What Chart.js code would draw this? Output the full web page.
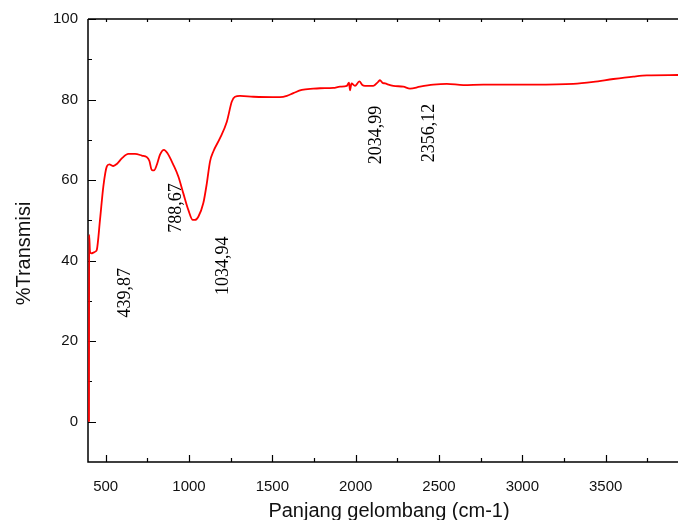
<!DOCTYPE html>
<html>
<head>
<meta charset="utf-8">
<script src="https://cdn.jsdelivr.net/npm/chart.js@4.4.1/dist/chart.umd.min.js"></script>
<style>
    body { margin: 0; background: #fff; }
    #wrap { width: 678px; height: 520px; }
</style>
</head>
<body>
<div id="wrap"><canvas id="ftirChart" width="678" height="520"></canvas></div>
<script>
// FTIR spectrum (wavenumber cm-1 / %T)
const wavenumber = [
    400, 401, 406, 415, 426, 440, 447, 466, 486, 507,
    522, 546, 567, 597, 636, 676, 717, 747, 762, 777,
    790, 807, 826, 850, 870, 906, 936, 966, 996, 1023,
    1036, 1056, 1086, 1107, 1126, 1146, 1186, 1227, 1257, 1276,
    1306, 1386, 1546, 1587, 1626, 1677, 1746, 1786, 1866, 1906,
    1947, 1960, 1966, 1975, 1996, 2022, 2040, 2056, 2106, 2135,
    2146, 2160, 2176, 2226, 2286, 2326, 2386, 2466, 2547, 2646,
    2766, 3066, 3306, 3426, 3546, 3666, 3747, 3934
];
const transmisi = [
    0, 46.4, 42.2, 41.8, 42.0, 42.3, 42.7, 50.1, 58.4, 63.4,
    63.9, 63.5, 64.0, 65.4, 66.5, 66.5, 66.1, 65.7, 64.8, 62.5,
    62.4, 63.8, 66.3, 67.5, 66.7, 63.8, 60.9, 56.7, 52.6, 50.1,
    50.1, 50.9, 54.3, 59.2, 64.6, 67.1, 70.4, 74.5, 79.5, 80.7,
    80.9, 80.7, 80.6, 80.9, 81.6, 82.4, 82.7, 82.8, 82.9, 83.2,
    83.4, 84.2, 82.3, 84.0, 83.4, 84.5, 83.6, 83.4, 83.4, 84.4,
    84.8, 84.2, 84.0, 83.4, 83.2, 82.7, 83.2, 83.7, 83.9, 83.6,
    83.7, 83.7, 83.9, 84.4, 85.1, 85.7, 86.0, 86.1
];

// axis ticks
const xTicks = [500, 1000, 1500, 2000, 2500, 3000, 3500];
const xMinorTicks = [750, 1250, 1750, 2250, 2750, 3250, 3750];
const yTicks = [0, 20, 40, 60, 80, 100];
const yMinorTicks = [10, 30, 50, 70, 90];

const xTitle = 'Panjang gelombang (cm-1)';
const yTitle = '%Transmisi';

// peak labels and where they sit (data units)
const peakLabels = ['439,87', '788,67', '1034,94', '2034,99', '2356,12'];
const peakLabelX = [616, 925, 1204, 2121, 2443];
const peakLabelY = [32.0, 53.1, 38.7, 71.2, 71.7];

const points = wavenumber.map((w, i) => ({ x: w, y: transmisi[i] }));
const sansFont = '"Liberation Sans", Arial, sans-serif';

// draws the box lines, inward ticks (Origin style), titles and peak labels
const frameAxes = {
    id: 'frameAxes',
    beforeDatasetsDraw(chart) {
        const { ctx, chartArea: a, scales: { x, y } } = chart;
        ctx.save();
        ctx.strokeStyle = '#000';
        ctx.lineWidth = 1.5;
        ctx.beginPath();
        ctx.moveTo(a.left, a.top);
        ctx.lineTo(a.right, a.top);
        ctx.moveTo(a.left, a.top);
        ctx.lineTo(a.left, a.bottom);
        ctx.lineTo(a.right, a.bottom);
        ctx.stroke();

        ctx.lineWidth = 1.2;
        ctx.beginPath();
        xTicks.concat(xMinorTicks).forEach(v => {
            const px = Math.round(x.getPixelForValue(v)) + 0.5;
            const len = xTicks.includes(v) ? 7 : 4;
            ctx.moveTo(px, a.bottom);
            ctx.lineTo(px, a.bottom - len);
            ctx.moveTo(px, a.top);
            ctx.lineTo(px, a.top + 3);
        });
        yTicks.concat(yMinorTicks).forEach(v => {
            const py = Math.round(y.getPixelForValue(v)) + 0.5;
            const len = yTicks.includes(v) ? 8 : 4;
            ctx.moveTo(a.left, py);
            ctx.lineTo(a.left + len, py);
        });
        ctx.stroke();

        // axis titles
        ctx.fillStyle = '#111';
        ctx.font = '20px ' + sansFont;
        ctx.textAlign = 'center';
        ctx.textBaseline = 'alphabetic';
        ctx.fillText(xTitle, 389, 516.5);
        ctx.save();
        ctx.translate(29.5, 253.5);
        ctx.rotate(-Math.PI / 2);
        ctx.fillText(yTitle, 0, 0);
        ctx.restore();
        ctx.restore();
    },
    afterDatasetsDraw(chart) {
        const { ctx, scales: { x, y } } = chart;
        ctx.save();
        ctx.fillStyle = '#000';
        ctx.font = '18px "Liberation Serif", "Times New Roman", serif';
        ctx.textAlign = 'center';
        ctx.textBaseline = 'middle';
        peakLabels.forEach((txt, i) => {
            ctx.save();
            ctx.translate(x.getPixelForValue(peakLabelX[i]), y.getPixelForValue(peakLabelY[i]));
            ctx.rotate(-Math.PI / 2);
            ctx.fillText(txt, 0, 0);
            ctx.restore();
        });
        ctx.restore();
    }
};

const ctx = document.getElementById('ftirChart').getContext('2d');
new Chart(ctx, {
    type: 'line',
    data: {
        datasets: [{
            data: points,
            borderColor: '#ff0000',
            borderWidth: 1.8,
            pointRadius: 0,
            fill: false,
            cubicInterpolationMode: 'monotone'
        }]
    },
    options: {
        responsive: false,
        animation: false,
        layout: { padding: { top: 19, right: 0, bottom: 0, left: 0 } },
        plugins: {
            legend: { display: false },
            tooltip: { enabled: false }
        },
        scales: {
            x: {
                type: 'linear',
                min: 394,
                max: 3934,
                afterFit: s => { s.height = 58; },
                afterBuildTicks: s => { s.ticks = xTicks.map(v => ({ value: v })); },
                grid: { display: false, drawTicks: false },
                border: { display: false },
                ticks: {
                    color: '#111',
                    padding: 16,
                    maxRotation: 0,
                    callback: v => String(v),
                    font: { family: sansFont, size: 15 }
                }
            },
            y: {
                min: -10,
                max: 100,
                afterFit: s => { s.width = 88; },
                afterBuildTicks: s => { s.ticks = yTicks.map(v => ({ value: v })); },
                grid: { display: false, drawTicks: false },
                border: { display: false },
                ticks: {
                    color: '#111',
                    padding: 10,
                    callback: v => String(v),
                    font: { family: sansFont, size: 15 }
                }
            }
        }
    },
    plugins: [frameAxes]
});
</script>
</body>
</html>
